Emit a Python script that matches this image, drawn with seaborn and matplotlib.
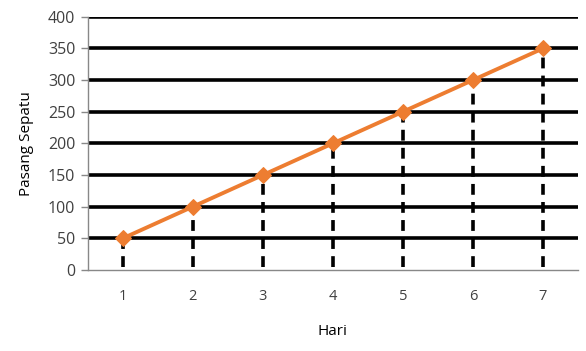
import matplotlib
matplotlib.use("Agg")
import matplotlib.pyplot as plt
import seaborn as sns
import pandas as pd

hari = [1, 2, 3, 4, 5, 6, 7]
pasang = [50, 100, 150, 200, 250, 300, 350]
yticks = [0, 50, 100, 150, 200, 250, 300, 350, 400]

sns.set_style("white")
plt.rcParams['font.family'] = ['Open Sans', 'DejaVu Sans']

df = pd.DataFrame({"Hari": hari, "Pasang Sepatu": pasang})

fig = plt.figure(figsize=(5.86, 3.51), dpi=100)
ax = fig.add_axes([0.150, 0.231, 0.836, 0.721])

for y in yticks[1:]:
    ax.axhline(y, color="black", linewidth=2.6, zorder=1)

ax.vlines(df["Hari"], 4, df["Pasang Sepatu"], colors="black", linewidth=2.6,
          linestyles=(0, (3, 2)), zorder=2)

sns.lineplot(data=df, x="Hari", y="Pasang Sepatu", ax=ax, color="#ED7D31",
             linewidth=2.8, marker="D", markersize=8, markeredgecolor="#ED7D31",
             zorder=3)

ax.set_xlim(0.5, 7.5)
ax.set_ylim(0, 400)
ax.set_xticks(hari)
ax.set_yticks(yticks)
ax.tick_params(axis="x", length=0, labelsize=10.5, colors="#404040", pad=14)
ax.tick_params(axis="y", length=5, width=1, color="#888888", labelsize=11.5,
               labelcolor="#404040", left=True, pad=4)

for side in ["top", "right"]:
    ax.spines[side].set_visible(False)
ax.spines["left"].set_color("#888888")
ax.spines["bottom"].set_color("#888888")
ax.spines["left"].set_linewidth(1)
ax.spines["bottom"].set_linewidth(1)

ax.set_xlabel("Hari", fontsize=11, labelpad=14, color="black")
ax.set_ylabel("Pasang Sepatu", fontsize=11, labelpad=10, color="black")

fig.savefig("out.png", dpi=100)
